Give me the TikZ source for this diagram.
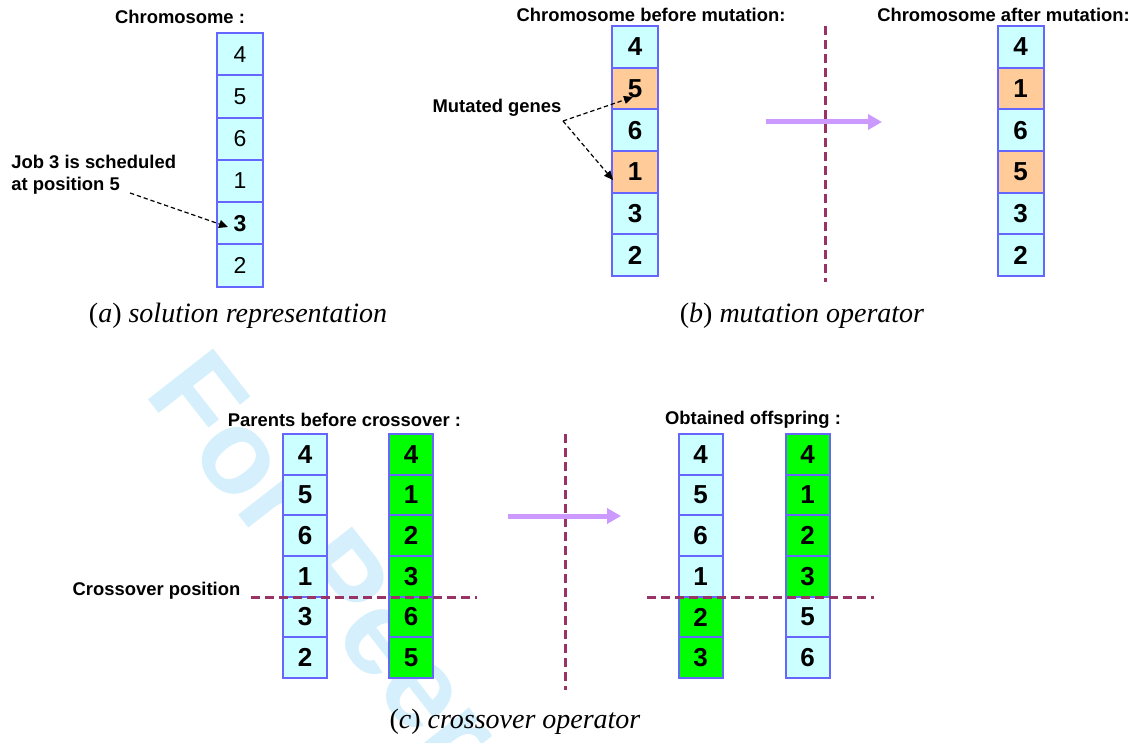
\documentclass[tikz,border=0pt]{standalone}
\usepackage{fontspec}
\setmainfont{Liberation Serif}
\newfontfamily\arialf{Liberation Sans}
\usetikzlibrary{arrows.meta}
\definecolor{cellblue}{HTML}{CCFFFF}
\definecolor{cellborder}{HTML}{6666FF}
\definecolor{cellorange}{HTML}{FFCC99}
\definecolor{cellgreen}{HTML}{00FF00}
\definecolor{cutline}{HTML}{993366}
\definecolor{bigarrow}{HTML}{CC99FF}
\definecolor{wmark}{HTML}{D5F0FC}
\begin{document}
\begin{tikzpicture}[x=0.5pt,y=-0.5pt,
  cellbox/.style={draw=cellborder, line width=1pt, inner sep=0pt, outer sep=0pt},
  cella/.style={cellbox, minimum width=23pt, minimum height=21.15pt, font=\arialf\fontsize{11.5}{11.5}\selectfont},
  cellb/.style={cellbox, minimum width=23pt, minimum height=20.83pt, font=\arialf\bfseries\fontsize{13}{13}\selectfont},
  cellc/.style={cellbox, minimum width=22pt, minimum height=20.33pt, font=\arialf\bfseries\fontsize{13}{13}\selectfont},
  lbl/.style={font=\arialf\bfseries\fontsize{9.2}{11}\selectfont, inner sep=0pt},
  capt/.style={font=\fontsize{14}{14}\selectfont, inner sep=0pt},
  cutstyle/.style={draw=cutline, line width=1.5pt, dash pattern=on 4.5pt off 2.5pt},
  notearrow/.style={draw=black, line width=0.6pt, dash pattern=on 2.2pt off 1.4pt, -{Triangle[length=4.5pt,width=4pt]}},
  bigarr/.style={draw=bigarrow, line width=2.5pt, -{Triangle[length=7pt,width=7.5pt]}},
  wm/.style={font=\arialf\bfseries\fontsize{60}{60}\selectfont, text=wmark, inner sep=0pt}
]
\fill[white] (0,0) rectangle (1136,743);
\useasboundingbox (0,0) rectangle (1136,743);
% watermark
\node[wm, anchor=base west, rotate=-52] (wmk) at (143,393) {For Peer Review};

% ---------- panel (a)
\node[lbl] (achrom) at (180,17) {Chromosome :};
\foreach \v [count=\i] in {4,5,6,1,\textbf{3},2}
  \node[cella, fill=cellblue] (a\i) at (240,{33+42.3*(\i-0.5)}) {\v};
\node[lbl, anchor=west, align=left] (ajob) at (11,175) {Job 3 is scheduled\\at position 5};
\coordinate (ajobend) at (130,193);
\coordinate (ajobtip) at (228,227);
\draw[notearrow] (ajobend) -- (ajobtip);
\node[capt] (capa) at (238,316) {(\textit{a}) \textit{solution representation}};

% ---------- panel (b)
\node[lbl] (bbefore) at (651,15) {Chromosome before mutation:};
\node[lbl] (bafter) at (1003.5,15) {Chromosome after mutation:};
\foreach \v/\c [count=\i] in {4/cellblue,5/cellorange,6/cellblue,1/cellorange,3/cellblue,2/cellblue}
  \node[cellb, fill=\c] (bl\i) at (635,{26+41.67*(\i-0.5)}) {\v};
\foreach \v/\c [count=\i] in {4/cellblue,1/cellorange,6/cellblue,5/cellorange,3/cellblue,2/cellblue}
  \node[cellb, fill=\c] (br\i) at (1020.5,{26+41.67*(\i-0.5)}) {\v};
\node[lbl] (bmut) at (497,108) {Mutated genes};
\coordinate (bsplit) at (563,121);
\coordinate (btipa) at (633,97);
\coordinate (btipb) at (613,180);
\draw[notearrow] (bsplit) -- (btipa);
\draw[notearrow] (bsplit) -- (btipb);
\coordinate (bcuttop) at (825,26);
\coordinate (bcutbot) at (825,282);
\draw[cutstyle] (bcuttop) -- (bcutbot);
\coordinate (barrs) at (766,122);
\coordinate (barre) at (882,122);
\draw[bigarr] (barrs) -- (barre);
\node[capt] (capb) at (802,316) {(\textit{b}) \textit{mutation operator}};

% ---------- panel (c)
\node[lbl] (cpar) at (344.5,420) {Parents before crossover :};
\node[lbl] (coff) at (753,420) {Obtained offspring :};
\foreach \v/\c [count=\i] in {4/cellblue,5/cellblue,6/cellblue,1/cellblue,3/cellblue,2/cellblue}
  \node[cellc, fill=\c] (cp\i) at (305,{434+40.67*(\i-0.5)}) {\v};
\foreach \v/\c [count=\i] in {4/cellgreen,1/cellgreen,2/cellgreen,3/cellgreen,6/cellgreen,5/cellgreen}
  \node[cellc, fill=\c] (cq\i) at (411,{434+40.67*(\i-0.5)}) {\v};
\foreach \v/\c [count=\i] in {4/cellblue,5/cellblue,6/cellblue,1/cellblue,2/cellgreen,3/cellgreen}
  \node[cellc, fill=\c] (co\i) at (700.5,{434+40.67*(\i-0.5)}) {\v};
\foreach \v/\c [count=\i] in {4/cellgreen,1/cellgreen,2/cellgreen,3/cellgreen,5/cellblue,6/cellblue}
  \node[cellc, fill=\c] (cr\i) at (807.5,{434+40.67*(\i-0.5)}) {\v};
\node[lbl] (cpos) at (156.5,591) {Crossover position};
\coordinate (chl1) at (251,597);
\coordinate (chl2) at (477,597);
\draw[cutstyle] (chl1) -- (chl2);
\coordinate (chr1) at (647,597);
\coordinate (chr2) at (874,597);
\draw[cutstyle] (chr1) -- (chr2);
\coordinate (ccuttop) at (565,434);
\coordinate (ccutbot) at (565,690);
\draw[cutstyle] (ccuttop) -- (ccutbot);
\coordinate (carrs) at (508,516);
\coordinate (carre) at (621,516);
\draw[bigarr] (carrs) -- (carre);
\node[capt] (capc) at (515,722) {(\textit{c}) \textit{crossover operator}};
\end{tikzpicture}
\end{document}
